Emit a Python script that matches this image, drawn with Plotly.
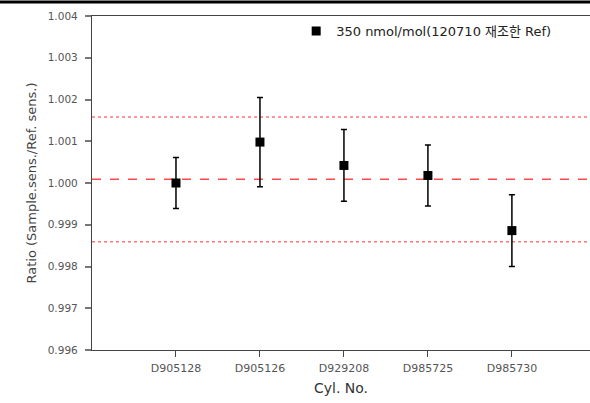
import plotly.graph_objects as go

categories = ["D905128", "D905126", "D929208", "D985725", "D985730"]
ratios = [1.00000, 1.00098, 1.00042, 1.00018, 0.99886]
errors = [0.00061, 0.00107, 0.00086, 0.00073, 0.00086]
mean_line = 1.00009
upper_limit = 1.00158
lower_limit = 0.99859
y_ticks = [0.996, 0.997, 0.998, 0.999, 1.000, 1.001, 1.002, 1.003, 1.004]
series_name = "350 nmol/mol(120710 재조한 Ref)"

xpos = list(range(1, len(categories) + 1))
font_fam = "DejaVu Sans, Noto Sans CJK KR, sans-serif"

fig = go.Figure()
fig.add_trace(go.Scatter(
    x=xpos, y=ratios, mode="markers", name=series_name,
    marker=dict(symbol="square", size=9, color="black"),
    error_y=dict(type="data", array=errors, visible=True, color="black",
                 thickness=1.5, width=3),
))

xr = [0, 5.93]
for val, dash, col in [(mean_line, "dash", "rgba(255,40,40,0.85)"),
                       (upper_limit, "dot", "rgba(255,60,60,0.7)"),
                       (lower_limit, "dot", "rgba(255,60,60,0.7)")]:
    fig.add_shape(type="line", xref="x", yref="y", x0=xr[0], x1=xr[1], y0=val, y1=val,
                  line=dict(color=col, width=1.5, dash=dash), layer="below")

# top black border bar
fig.add_shape(type="line", xref="paper", yref="paper", x0=-92/498, x1=1,
              y0=1 + 14/334, y1=1 + 14/334, line=dict(color="black", width=3))

fig.update_layout(
    width=590, height=403,
    margin=dict(l=92, r=0, t=16, b=53),
    paper_bgcolor="white", plot_bgcolor="white",
    showlegend=True,
    legend=dict(x=0.41, y=1.0, xanchor="left", yanchor="top",
                font=dict(family=font_fam, size=13, color="#222"),
                bgcolor="rgba(0,0,0,0)", itemwidth=30),
    font=dict(family=font_fam),
)
fig.update_xaxes(
    range=xr, tickmode="array", tickvals=xpos, ticktext=categories,
    showgrid=False, zeroline=False, showline=True, linecolor="#444", linewidth=1.3,
    mirror=True, ticks="outside", ticklen=6, tickcolor="#444", tickwidth=1.3,
    tickfont=dict(family=font_fam, size=11, color="#555"),
    ticklabelstandoff=2,
    title=dict(text="Cyl. No.", font=dict(family=font_fam, size=14, color="#333"), standoff=8),
)
fig.update_yaxes(
    range=[0.996, 1.004], tickmode="array", tickvals=y_ticks,
    ticktext=[f"{v:.3f}" for v in y_ticks],
    showgrid=False, zeroline=False, showline=True, linecolor="#444", linewidth=1.3,
    ticks="outside", ticklen=6, tickcolor="#777", tickwidth=2,
    tickfont=dict(family=font_fam, size=10.5, color="#555"),
    ticklabelstandoff=5,
    title=dict(text="Ratio (Sample.sens./Ref. sens.)",
               font=dict(family=font_fam, size=13, color="#444"), standoff=8),
)

fig.write_html("out.html", config={"displayModeBar": False},
               post_script="document.body.style.margin='0';document.body.style.overflow='hidden';")
